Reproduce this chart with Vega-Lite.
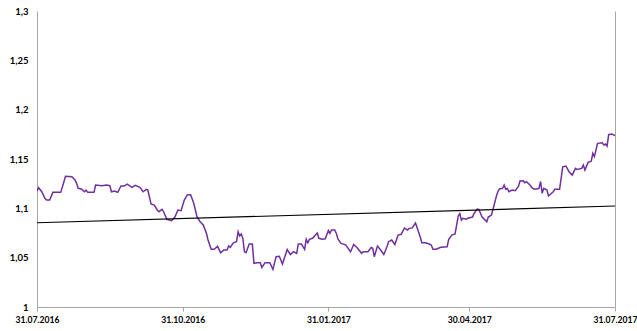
{
  "$schema": "https://vega.github.io/schema/vega-lite/v6.json",
  "width": 578,
  "height": 296,
  "autosize": {"type": "none"},
  "padding": {"left": 37, "top": 11, "right": 22, "bottom": 24},
  "background": "white",
  "config": {
    "view": {"stroke": null},
    "axis": {
      "labelFont": "Lato",
      "labelFontWeight": "bold",
      "labelFontSize": 9.5,
      "labelColor": "#000000",
      "domainColor": "#A6A6A6",
      "tickColor": "#A6A6A6",
      "grid": false,
      "title": null
    }
  },
  "datasets": {
    "series": [
      {"date": "2016-07-31", "value": 1.1175},
      {"date": "2016-08-01", "value": 1.1209},
      {"date": "2016-08-03", "value": 1.1168},
      {"date": "2016-08-05", "value": 1.1101},
      {"date": "2016-08-06", "value": 1.1084},
      {"date": "2016-08-08", "value": 1.1084},
      {"date": "2016-08-10", "value": 1.1162},
      {"date": "2016-08-13", "value": 1.1162},
      {"date": "2016-08-15", "value": 1.1162},
      {"date": "2016-08-17", "value": 1.1270},
      {"date": "2016-08-18", "value": 1.1324},
      {"date": "2016-08-22", "value": 1.1320},
      {"date": "2016-08-24", "value": 1.1287},
      {"date": "2016-08-25", "value": 1.1253},
      {"date": "2016-08-26", "value": 1.1203},
      {"date": "2016-08-28", "value": 1.1196},
      {"date": "2016-08-30", "value": 1.1168},
      {"date": "2016-08-31", "value": 1.1185},
      {"date": "2016-09-01", "value": 1.1162},
      {"date": "2016-09-05", "value": 1.1162},
      {"date": "2016-09-06", "value": 1.1236},
      {"date": "2016-09-10", "value": 1.1229},
      {"date": "2016-09-13", "value": 1.1236},
      {"date": "2016-09-15", "value": 1.1229},
      {"date": "2016-09-16", "value": 1.1168},
      {"date": "2016-09-18", "value": 1.1175},
      {"date": "2016-09-20", "value": 1.1162},
      {"date": "2016-09-22", "value": 1.1226},
      {"date": "2016-09-24", "value": 1.1226},
      {"date": "2016-09-26", "value": 1.1246},
      {"date": "2016-09-29", "value": 1.1213},
      {"date": "2016-10-01", "value": 1.1233},
      {"date": "2016-10-04", "value": 1.1213},
      {"date": "2016-10-06", "value": 1.1168},
      {"date": "2016-10-08", "value": 1.1193},
      {"date": "2016-10-09", "value": 1.1185},
      {"date": "2016-10-11", "value": 1.1044},
      {"date": "2016-10-13", "value": 1.1033},
      {"date": "2016-10-15", "value": 1.0983},
      {"date": "2016-10-16", "value": 1.0966},
      {"date": "2016-10-18", "value": 1.0990},
      {"date": "2016-10-19", "value": 1.0963},
      {"date": "2016-10-21", "value": 1.0889},
      {"date": "2016-10-24", "value": 1.0874},
      {"date": "2016-10-26", "value": 1.0909},
      {"date": "2016-10-28", "value": 1.0983},
      {"date": "2016-10-30", "value": 1.0976},
      {"date": "2016-11-01", "value": 1.1084},
      {"date": "2016-11-03", "value": 1.1138},
      {"date": "2016-11-05", "value": 1.1138},
      {"date": "2016-11-07", "value": 1.1051},
      {"date": "2016-11-09", "value": 1.0915},
      {"date": "2016-11-11", "value": 1.0864},
      {"date": "2016-11-13", "value": 1.0831},
      {"date": "2016-11-15", "value": 1.0747},
      {"date": "2016-11-16", "value": 1.0679},
      {"date": "2016-11-18", "value": 1.0585},
      {"date": "2016-11-20", "value": 1.0585},
      {"date": "2016-11-22", "value": 1.0615},
      {"date": "2016-11-24", "value": 1.0550},
      {"date": "2016-11-26", "value": 1.0578},
      {"date": "2016-11-28", "value": 1.0578},
      {"date": "2016-11-29", "value": 1.0618},
      {"date": "2016-11-30", "value": 1.0605},
      {"date": "2016-12-02", "value": 1.0651},
      {"date": "2016-12-04", "value": 1.0662},
      {"date": "2016-12-05", "value": 1.0763},
      {"date": "2016-12-06", "value": 1.0719},
      {"date": "2016-12-07", "value": 1.0740},
      {"date": "2016-12-08", "value": 1.0696},
      {"date": "2016-12-09", "value": 1.0560},
      {"date": "2016-12-10", "value": 1.0550},
      {"date": "2016-12-12", "value": 1.0638},
      {"date": "2016-12-14", "value": 1.0638},
      {"date": "2016-12-15", "value": 1.0443},
      {"date": "2016-12-17", "value": 1.0449},
      {"date": "2016-12-19", "value": 1.0449},
      {"date": "2016-12-20", "value": 1.0400},
      {"date": "2016-12-22", "value": 1.0449},
      {"date": "2016-12-25", "value": 1.0449},
      {"date": "2016-12-27", "value": 1.0382},
      {"date": "2016-12-29", "value": 1.0510},
      {"date": "2016-12-31", "value": 1.0514},
      {"date": "2017-01-02", "value": 1.0436},
      {"date": "2017-01-05", "value": 1.0583},
      {"date": "2017-01-07", "value": 1.0532},
      {"date": "2017-01-09", "value": 1.0560},
      {"date": "2017-01-11", "value": 1.0544},
      {"date": "2017-01-12", "value": 1.0638},
      {"date": "2017-01-14", "value": 1.0638},
      {"date": "2017-01-16", "value": 1.0585},
      {"date": "2017-01-17", "value": 1.0686},
      {"date": "2017-01-18", "value": 1.0651},
      {"date": "2017-01-19", "value": 1.0686},
      {"date": "2017-01-21", "value": 1.0696},
      {"date": "2017-01-24", "value": 1.0750},
      {"date": "2017-01-25", "value": 1.0696},
      {"date": "2017-01-27", "value": 1.0686},
      {"date": "2017-01-29", "value": 1.0692},
      {"date": "2017-01-31", "value": 1.0775},
      {"date": "2017-02-01", "value": 1.0747},
      {"date": "2017-02-02", "value": 1.0780},
      {"date": "2017-02-04", "value": 1.0780},
      {"date": "2017-02-05", "value": 1.0747},
      {"date": "2017-02-06", "value": 1.0691},
      {"date": "2017-02-08", "value": 1.0645},
      {"date": "2017-02-10", "value": 1.0635},
      {"date": "2017-02-11", "value": 1.0628},
      {"date": "2017-02-14", "value": 1.0560},
      {"date": "2017-02-16", "value": 1.0633},
      {"date": "2017-02-18", "value": 1.0603},
      {"date": "2017-02-21", "value": 1.0544},
      {"date": "2017-02-22", "value": 1.0560},
      {"date": "2017-02-25", "value": 1.0560},
      {"date": "2017-02-27", "value": 1.0603},
      {"date": "2017-02-28", "value": 1.0595},
      {"date": "2017-03-01", "value": 1.0510},
      {"date": "2017-03-03", "value": 1.0618},
      {"date": "2017-03-05", "value": 1.0578},
      {"date": "2017-03-07", "value": 1.0532},
      {"date": "2017-03-09", "value": 1.0611},
      {"date": "2017-03-10", "value": 1.0662},
      {"date": "2017-03-12", "value": 1.0679},
      {"date": "2017-03-14", "value": 1.0633},
      {"date": "2017-03-16", "value": 1.0729},
      {"date": "2017-03-18", "value": 1.0737},
      {"date": "2017-03-20", "value": 1.0800},
      {"date": "2017-03-22", "value": 1.0780},
      {"date": "2017-03-23", "value": 1.0797},
      {"date": "2017-03-25", "value": 1.0802},
      {"date": "2017-03-27", "value": 1.0851},
      {"date": "2017-03-28", "value": 1.0805},
      {"date": "2017-03-30", "value": 1.0709},
      {"date": "2017-03-31", "value": 1.0651},
      {"date": "2017-04-02", "value": 1.0651},
      {"date": "2017-04-04", "value": 1.0643},
      {"date": "2017-04-06", "value": 1.0628},
      {"date": "2017-04-07", "value": 1.0585},
      {"date": "2017-04-09", "value": 1.0585},
      {"date": "2017-04-12", "value": 1.0605},
      {"date": "2017-04-16", "value": 1.0611},
      {"date": "2017-04-17", "value": 1.0686},
      {"date": "2017-04-19", "value": 1.0729},
      {"date": "2017-04-21", "value": 1.0740},
      {"date": "2017-04-23", "value": 1.0922},
      {"date": "2017-04-24", "value": 1.0947},
      {"date": "2017-04-25", "value": 1.0881},
      {"date": "2017-04-26", "value": 1.0899},
      {"date": "2017-04-28", "value": 1.0889},
      {"date": "2017-04-29", "value": 1.0899},
      {"date": "2017-05-02", "value": 1.0912},
      {"date": "2017-05-03", "value": 1.0949},
      {"date": "2017-05-05", "value": 1.0993},
      {"date": "2017-05-06", "value": 1.0990},
      {"date": "2017-05-08", "value": 1.0915},
      {"date": "2017-05-11", "value": 1.0864},
      {"date": "2017-05-12", "value": 1.0912},
      {"date": "2017-05-14", "value": 1.0932},
      {"date": "2017-05-15", "value": 1.0993},
      {"date": "2017-05-17", "value": 1.1118},
      {"date": "2017-05-18", "value": 1.1168},
      {"date": "2017-05-19", "value": 1.1196},
      {"date": "2017-05-21", "value": 1.1203},
      {"date": "2017-05-22", "value": 1.1236},
      {"date": "2017-05-23", "value": 1.1193},
      {"date": "2017-05-24", "value": 1.1203},
      {"date": "2017-05-25", "value": 1.1168},
      {"date": "2017-05-27", "value": 1.1185},
      {"date": "2017-05-29", "value": 1.1178},
      {"date": "2017-05-31", "value": 1.1221},
      {"date": "2017-06-01", "value": 1.1277},
      {"date": "2017-06-03", "value": 1.1280},
      {"date": "2017-06-04", "value": 1.1259},
      {"date": "2017-06-05", "value": 1.1270},
      {"date": "2017-06-07", "value": 1.1241},
      {"date": "2017-06-09", "value": 1.1201},
      {"date": "2017-06-11", "value": 1.1193},
      {"date": "2017-06-13", "value": 1.1203},
      {"date": "2017-06-14", "value": 1.1272},
      {"date": "2017-06-15", "value": 1.1152},
      {"date": "2017-06-16", "value": 1.1203},
      {"date": "2017-06-18", "value": 1.1185},
      {"date": "2017-06-19", "value": 1.1125},
      {"date": "2017-06-22", "value": 1.1168},
      {"date": "2017-06-23", "value": 1.1193},
      {"date": "2017-06-26", "value": 1.1193},
      {"date": "2017-06-28", "value": 1.1421},
      {"date": "2017-06-30", "value": 1.1429},
      {"date": "2017-07-02", "value": 1.1371},
      {"date": "2017-07-04", "value": 1.1337},
      {"date": "2017-07-06", "value": 1.1405},
      {"date": "2017-07-07", "value": 1.1395},
      {"date": "2017-07-10", "value": 1.1405},
      {"date": "2017-07-11", "value": 1.1439},
      {"date": "2017-07-12", "value": 1.1388},
      {"date": "2017-07-14", "value": 1.1466},
      {"date": "2017-07-16", "value": 1.1477},
      {"date": "2017-07-17", "value": 1.1557},
      {"date": "2017-07-18", "value": 1.1525},
      {"date": "2017-07-20", "value": 1.1659},
      {"date": "2017-07-23", "value": 1.1665},
      {"date": "2017-07-24", "value": 1.1641},
      {"date": "2017-07-25", "value": 1.1651},
      {"date": "2017-07-26", "value": 1.1631},
      {"date": "2017-07-27", "value": 1.1746},
      {"date": "2017-07-29", "value": 1.1753},
      {"date": "2017-07-31", "value": 1.1738}
    ],
    "trend": [
      {"date": "2016-07-31", "value": 1.0854},
      {"date": "2017-07-31", "value": 1.1023}
    ]
  },
  "layer": [
    {
      "data": {"name": "series"},
      "mark": {"type": "line", "color": "#7030A0", "strokeWidth": 1.5, "clip": true},
      "encoding": {
        "x": {
          "field": "date",
          "type": "temporal",
          "scale": {
            "type": "utc",
            "domain": [
              {"year": 2016, "month": "Jul", "date": 31, "utc": true},
              {"year": 2017, "month": "Jul", "date": 31, "utc": true}
            ],
            "nice": false
          },
          "axis": {
            "values": [
              {"year": 2016, "month": "Jul", "date": 31, "utc": true},
              {"year": 2016, "month": "Oct", "date": 31, "utc": true},
              {"year": 2017, "month": "Jan", "date": 31, "utc": true},
              {"year": 2017, "month": "Apr", "date": 30, "utc": true},
              {"year": 2017, "month": "Jul", "date": 31, "utc": true}
            ],
            "labelExpr": "utcFormat(datum.value, '%d.%m.%Y')",
            "labelFontSize": 8.6,
            "ticks": true,
            "tickSize": 4,
            "labelPadding": 4,
            "labelFlush": false,
            "labelOverlap": false
          }
        },
        "y": {
          "field": "value",
          "type": "quantitative",
          "scale": {"domain": [1, 1.3], "nice": false, "zero": false},
          "axis": {
            "values": [1, 1.05, 1.1, 1.15, 1.2, 1.25, 1.3],
            "labelExpr": "replace(format(datum.value, '.2~f'), '.', ',')",
            "ticks": false,
            "labelPadding": 9
          }
        }
      }
    },
    {
      "data": {"name": "trend"},
      "mark": {"type": "line", "color": "#000000", "strokeWidth": 1.1},
      "encoding": {
        "x": {"field": "date", "type": "temporal"},
        "y": {
          "field": "value",
          "type": "quantitative",
          "axis": {"orient": "right", "labels": false, "ticks": false, "domain": true}
        }
      }
    }
  ],
  "resolve": {"axis": {"y": "independent"}}
}
